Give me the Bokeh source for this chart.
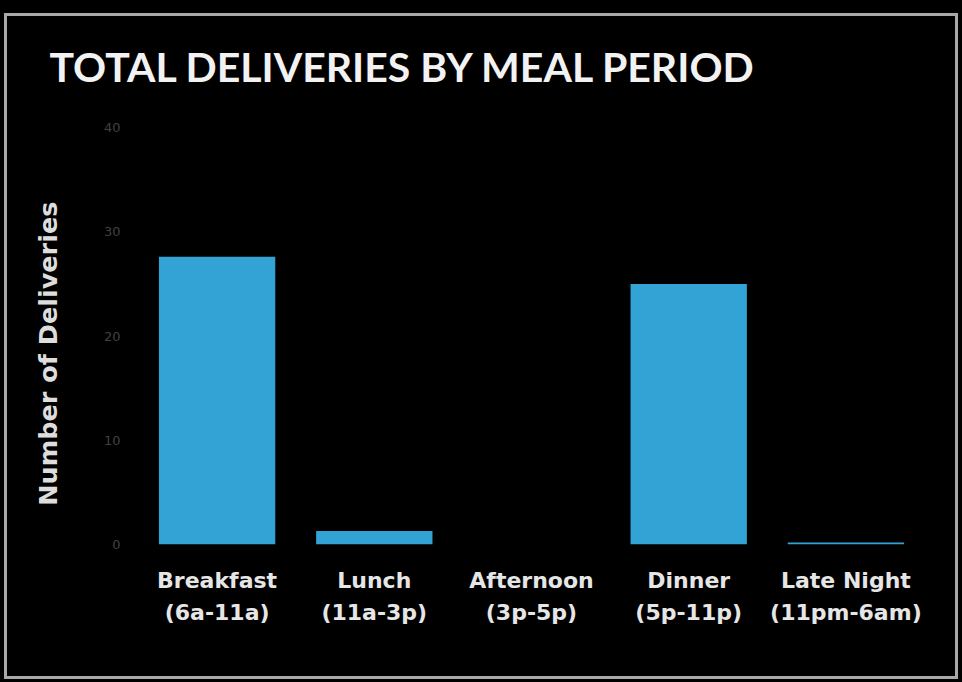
from bokeh.plotting import figure
from bokeh.models import ColumnDataSource, FixedTicker
from bokeh.embed import file_html
from bokeh.resources import INLINE

categories = ["Breakfast\n(6a-11a)", "Lunch\n(11a-3p)", "Afternoon\n(3p-5p)",
              "Dinner\n(5p-11p)", "Late Night\n(11pm-6am)"]
deliveries = [27.6, 1.3, 0, 25.0, 0.2]
y_ticks = [0, 10, 20, 30, 40]

src = ColumnDataSource(dict(cat=categories, val=deliveries))

p = figure(x_range=categories, y_range=(0, 40), width=962, height=682,
           output_backend="svg", toolbar_location=None,
           background_fill_color="black", border_fill_color="black",
           min_border_left=138, min_border_right=38, min_border_top=127,
           min_border_bottom=138)
p.outline_line_color = None

p.vbar(x="cat", top="val", width=0.74, source=src,
       fill_color="#33a3d6", line_color=None)

p.title.text = "TOTAL DELIVERIES BY MEAL PERIOD"
p.title.text_font = "Lato"
p.title.text_font_style = "bold"
p.title.text_font_size = "41px"
p.title.text_color = "#f2f2f2"
p.title.align = "left"
p.title.offset = -89
p.title.standoff = 73

p.xgrid.visible = False
p.ygrid.visible = False

p.xaxis.axis_line_color = None
p.xaxis.major_tick_line_color = None
p.xaxis.major_tick_out = 0
p.xaxis.major_label_standoff = 23
p.xaxis.major_label_text_font = "DejaVu Sans"
p.xaxis.major_label_text_font_style = "bold"
p.xaxis.major_label_text_font_size = "22px"
p.xaxis.major_label_text_color = "#e6e6e6"
p.xaxis.major_label_text_line_height = 1.3

p.yaxis.ticker = FixedTicker(ticks=y_ticks)
p.yaxis.axis_line_color = None
p.yaxis.major_tick_line_color = None
p.yaxis.minor_tick_line_color = None
p.yaxis.major_tick_out = 0
p.yaxis.major_label_standoff = 18
p.yaxis.major_label_text_font = "DejaVu Sans"
p.yaxis.major_label_text_font_size = "13px"
p.yaxis.major_label_text_color = "#404040"
p.yaxis.axis_label = "Number of Deliveries" + "\u00a0" * 4
p.yaxis.axis_label_text_font = "DejaVu Sans"
p.yaxis.axis_label_text_font_style = "bold"
p.yaxis.axis_label_text_font_size = "25.5px"
p.yaxis.axis_label_text_color = "#dddddd"
p.yaxis.axis_label_standoff = 38

html = file_html(p, INLINE)
style = "<style>html,body{background:#000 !important;}</style>"
head_end = html.rfind("</head>")
html = html[:head_end] + style + html[head_end:]
frame_div = ('<div style="position:fixed;left:4px;top:13px;width:954px;height:666px;'
             'box-sizing:border-box;border:3px solid #a8a8a8;pointer-events:none;'
             'z-index:1000;"></div>')
body_end = html.rfind("</body>")
html = html[:body_end] + frame_div + html[body_end:]
open("out.html", "w").write(html)
